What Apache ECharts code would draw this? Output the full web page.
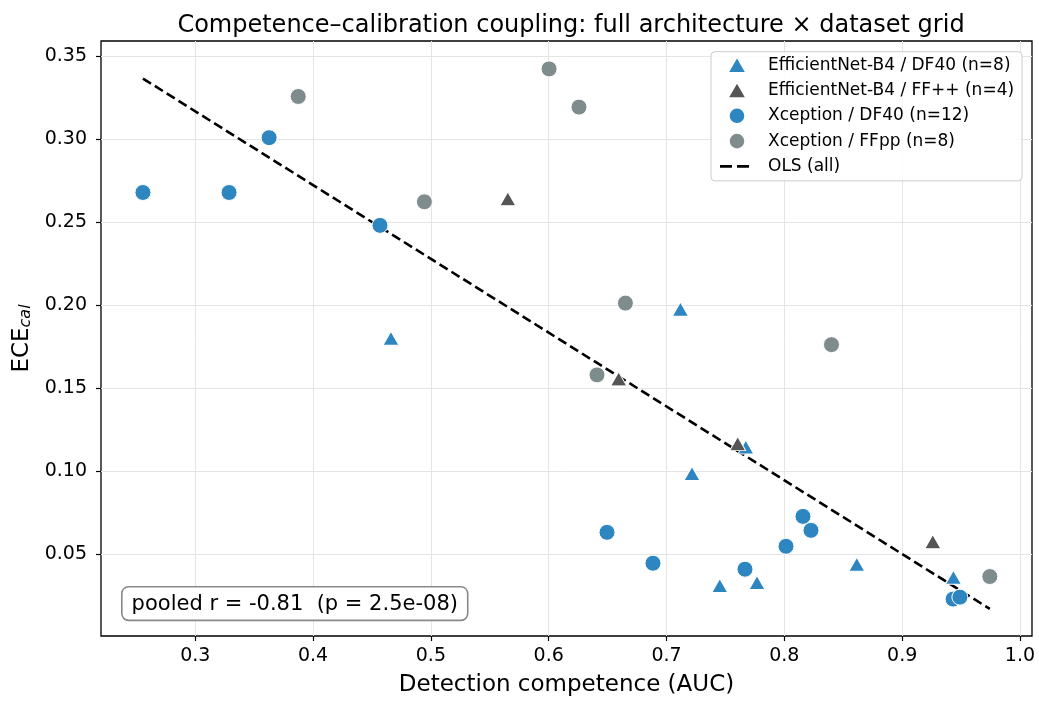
<!DOCTYPE html>
<html>
<head>
<meta charset="utf-8">
<script src="https://cdn.jsdelivr.net/npm/echarts@6/dist/echarts.min.js"></script>
<style>
html,body{margin:0;padding:0;background:#fff;}
#chart{width:1039px;height:702px;}
</style>
</head>
<body>
<div id="chart"></div>
<script>
// ---- data ----
const effDf40Name = 'EfficientNet-B4 / DF40 (n=8)';
const effDf40X = [0.4661, 0.7118, 0.7673, 0.7216, 0.7452, 0.7768, 0.8615, 0.9435];
const effDf40Y = [0.1800, 0.1976, 0.1146, 0.0986, 0.0312, 0.0330, 0.0440, 0.0362];

const effFfName = 'EfficientNet-B4 / FF++ (n=4)';
const effFfX = [0.5653, 0.6594, 0.7604, 0.9260];
const effFfY = [0.2640, 0.1556, 0.1166, 0.0576];

const xcDf40Name = 'Xception / DF40 (n=12)';
const xcDf40X = [0.2556, 0.3287, 0.3627, 0.4568, 0.6495, 0.6885, 0.7666, 0.8014, 0.8158, 0.8226, 0.9432, 0.9490];
const xcDf40Y = [0.2678, 0.2678, 0.3008, 0.2480, 0.0632, 0.0446, 0.0410, 0.0548, 0.0728, 0.0644, 0.0230, 0.0242];

const xcFfName = 'Xception / FFpp (n=8)';
const xcFfX = [0.3874, 0.4945, 0.6003, 0.6257, 0.6651, 0.6410, 0.8400, 0.9744];
const xcFfY = [0.3256, 0.2622, 0.3422, 0.3192, 0.2012, 0.1580, 0.1762, 0.0366];

const olsName = 'OLS (all)';
const olsX = [0.2556, 0.9744];
const olsY = [0.3364, 0.0171];

const xTicks = [0.3, 0.4, 0.5, 0.6, 0.7, 0.8, 0.9, 1.0];
const yTicks = [0.05, 0.10, 0.15, 0.20, 0.25, 0.30, 0.35];

const titleText = 'Competence\u2013calibration coupling: full architecture \u00d7 dataset grid';
const xLabel = 'Detection competence (AUC)';
const annotText = 'pooled r = -0.81  (p = 2.5e-08)';

// ---- chart ----
const FONT = 'DejaVu Sans';
const pairs = (xs, ys) => xs.map((x, i) => [x, ys[i]]);
const BLUE = '#2E86C1', GRAY = '#7F8C8D', DARK = '#555555';

// legend icon paths in a 52x15 box (tiny corner squares fix the box extent)
const BOX = 'M0,0h0.01v0.01h-0.01z M52,15h-0.01v-0.01h0.01z ';
const ICON_TRI = 'path://' + BOX + 'M26,0.8 L33.8,14.2 L18.2,14.2 Z';
const ICON_CIRC = 'path://' + BOX + 'M18.7,7.5 A7.3,7.3 0 1,0 33.3,7.5 A7.3,7.3 0 1,0 18.7,7.5 Z';
const ICON_DASH = 'path://' + BOX + 'M9,6.2h12v2.6h-12z M26,6.2h12v2.6h-12z';

const chart = echarts.init(document.getElementById('chart'), null, {renderer: 'canvas'});
const option = {
  animation: false,
  backgroundColor: '#ffffff',
  textStyle: {fontFamily: FONT},
  title: {
    text: titleText,
    left: 566, top: 9, textAlign: 'center',
    textStyle: {fontFamily: FONT, fontSize: 24, fontWeight: 'normal', color: '#000'}
  },
  grid: {
    left: 101, top: 41, right: 7, bottom: 64,
    show: true, borderColor: '#000', borderWidth: 1.3, backgroundColor: 'transparent'
  },
  xAxis: {
    type: 'value', min: 0.22, max: 1.0102,
    name: xLabel, nameLocation: 'middle', nameGap: 38,
    nameTextStyle: {fontFamily: FONT, fontSize: 23, color: '#000'},
    axisLine: {show: false},
    axisTick: {show: true, inside: false, length: 5, customValues: xTicks, lineStyle: {color: '#000', width: 1.2}},
    axisLabel: {customValues: xTicks, margin: 11, fontFamily: FONT, fontSize: 19, color: '#000',
      formatter: v => v.toFixed(1)},
    splitLine: {show: true, lineStyle: {color: '#e4e4e4', width: 1}}
  },
  yAxis: {
    type: 'value', min: 0.0008, max: 0.359,
    name: '{a|ECE}{b|cal}', nameLocation: 'middle', nameGap: 66, nameRotate: 90,
    nameTextStyle: {
      color: '#000',
      rich: {
        a: {fontFamily: FONT, fontSize: 23, color: '#000', verticalAlign: 'bottom', lineHeight: 26},
        b: {fontFamily: FONT, fontSize: 16, fontStyle: 'italic', color: '#000', verticalAlign: 'bottom', lineHeight: 20}
      }
    },
    axisLine: {show: false},
    axisTick: {show: true, inside: false, length: 5, customValues: yTicks, lineStyle: {color: '#000', width: 1.2}},
    axisLabel: {customValues: yTicks, margin: 14, fontFamily: FONT, fontSize: 19, color: '#000',
      formatter: v => v.toFixed(2)},
    splitLine: {show: true, lineStyle: {color: '#e4e4e4', width: 1}}
  },
  legend: {
    orient: 'vertical', left: 711, top: 51.7,
    padding: [5, 8, 6, 0],
    itemWidth: 52, itemHeight: 15, itemGap: 8.3,
    backgroundColor: 'rgba(255,255,255,0.85)', borderColor: '#cccccc', borderWidth: 1, borderRadius: 4,
    textStyle: {fontFamily: FONT, fontSize: 17, color: '#000', lineHeight: 17},
    data: [
      {name: effDf40Name, icon: ICON_TRI, itemStyle: {color: BLUE, borderWidth: 0}},
      {name: effFfName, icon: ICON_TRI, itemStyle: {color: DARK, borderWidth: 0}},
      {name: xcDf40Name, icon: ICON_CIRC, itemStyle: {color: BLUE, borderWidth: 0}},
      {name: xcFfName, icon: ICON_CIRC, itemStyle: {color: GRAY, borderWidth: 0}},
      {name: olsName, icon: ICON_DASH, itemStyle: {color: '#000', borderWidth: 0}}
    ]
  },
  graphic: [{
    type: 'text', left: 121, top: 586, z: 100,
    style: {
      text: annotText, font: '21px "DejaVu Sans"', fill: '#000',
      backgroundColor: '#fff', borderColor: '#888', borderWidth: 1.6, borderRadius: 6,
      padding: [6, 9, 5, 9]
    }
  }],
  series: [
    {
      name: olsName, type: 'line', data: pairs(olsX, olsY), symbol: 'none', z: 2,
      lineStyle: {color: '#000', width: 2.6, type: [9.5, 4.5]}, itemStyle: {color: '#000'},
      emphasis: {disabled: true}, silent: true
    },
    {
      name: effDf40Name, type: 'scatter', data: pairs(effDf40X, effDf40Y), z: 3,
      symbol: 'triangle', symbolSize: [16, 14],
      itemStyle: {color: BLUE, borderColor: '#fff', borderWidth: 1, opacity: 1}
    },
    {
      name: effFfName, type: 'scatter', data: pairs(effFfX, effFfY), z: 3,
      symbol: 'triangle', symbolSize: [16, 14],
      itemStyle: {color: DARK, borderColor: '#fff', borderWidth: 1, opacity: 1}
    },
    {
      name: xcDf40Name, type: 'scatter', data: pairs(xcDf40X, xcDf40Y), z: 3,
      symbol: 'circle', symbolSize: 16,
      itemStyle: {color: BLUE, borderColor: '#fff', borderWidth: 1, opacity: 1}
    },
    {
      name: xcFfName, type: 'scatter', data: pairs(xcFfX, xcFfY), z: 3,
      symbol: 'circle', symbolSize: 16,
      itemStyle: {color: GRAY, borderColor: '#fff', borderWidth: 1, opacity: 1}
    }
  ]
};
chart.setOption(option);
</script>
</body>
</html>
